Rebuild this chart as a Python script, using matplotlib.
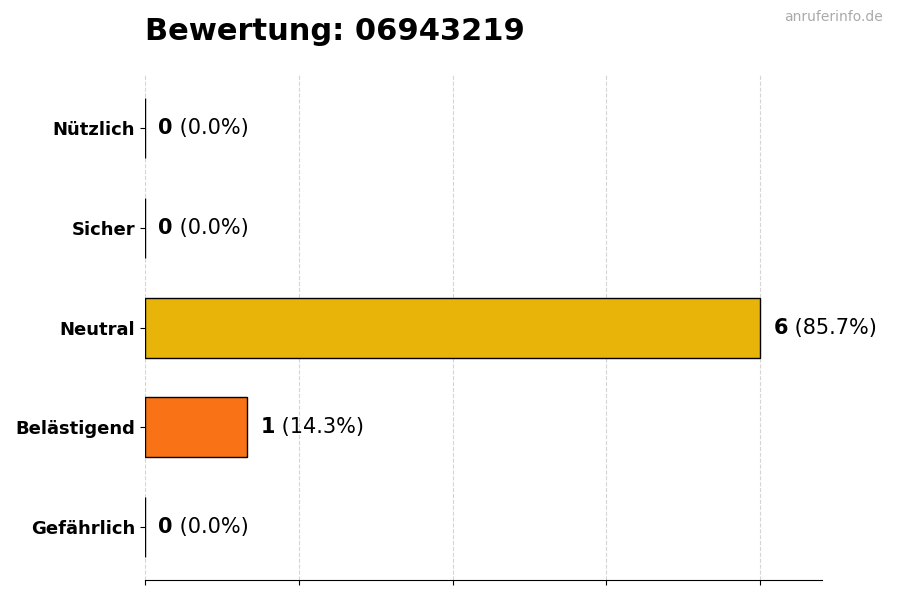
import numpy as np
import matplotlib.pyplot as plt

# Bewertungen (oben nach unten)
categories = ["Nützlich", "Sicher", "Neutral", "Belästigend", "Gefährlich"]
counts = [0, 0, 6, 1, 0]
colors = ["#22A34A", "#3B82F6", "#E8B40A", "#F97316", "#DC2626"]
number = "06943219"

total = sum(counts)
ypos = np.arange(len(categories))[::-1]

fig, ax = plt.subplots(figsize=(9, 6), dpi=100)
fig.subplots_adjust(left=0.161, right=0.913, top=0.875, bottom=0.033)

ax.barh(ypos, counts, height=0.6, color=colors, edgecolor="black", linewidth=1, zorder=3)

for y, c in zip(ypos, counts):
    pct = c / total * 100 if total else 0
    t = ax.annotate(f"{c}", xy=(c, y), xytext=(9.5, 0), textcoords="offset points",
                    va="center", ha="left", fontsize=15, fontweight="bold")
    ax.annotate(f" ({pct:.1f}%)", xy=(1, 0.5), xycoords=t, va="center", ha="left",
                fontsize=15)

ax.set_yticks(ypos)
ax.set_yticklabels(categories, fontsize=13, fontweight="bold")
ax.set_xlim(0, max(counts) * 1.1)
ax.set_xticks(np.linspace(0, max(counts), 5))
ax.set_xticklabels([])
ax.grid(axis="x", linestyle="--", color="#d5d5d5", linewidth=0.8, zorder=0)
ax.set_axisbelow(True)
for s in ["top", "right", "left"]:
    ax.spines[s].set_visible(False)

fig.text(0.161, 0.948, f"Bewertung: {number}", fontsize=22, fontweight="bold",
         ha="left", va="center")
fig.text(0.981, 0.971, "anruferinfo.de", fontsize=10, color="#aaaaaa",
         ha="right", va="center")

fig.savefig("out.png", dpi=100)
